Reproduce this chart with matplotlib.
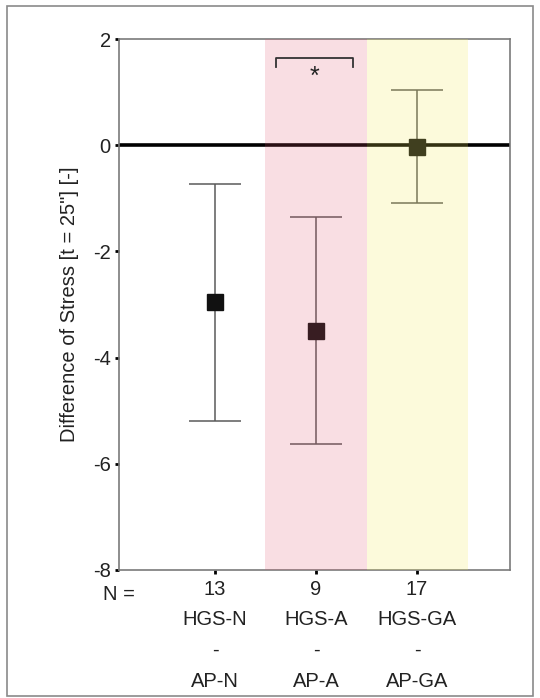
import matplotlib
matplotlib.use("Agg")
import matplotlib.pyplot as plt
from matplotlib.patches import Rectangle
from matplotlib import font_manager

fams = {f.name for f in font_manager.fontManager.ttflist}
FONT = ['Liberation Sans Narrow', 'Liberation Sans', 'DejaVu Sans'] if 'Liberation Sans Narrow' in fams else ['Liberation Sans', 'DejaVu Sans']
plt.rcParams['font.family'] = FONT

# ---- data ----
groups_top = ["HGS-N", "HGS-A", "HGS-GA"]
groups_bottom = ["AP-N", "AP-A", "AP-GA"]
n_values = [13, 9, 17]
means = [-2.95, -3.49, -0.03]
upper = [-0.73, -1.35, 1.04]
lower = [-5.19, -5.62, -1.09]
yticks = [2, 0, -2, -4, -6, -8]
ylabel = 'Difference of Stress [t = 25"] [-]'

fig = plt.figure(figsize=(5.4, 6.98), dpi=100)
ax = fig.add_axes([0.2204, 0.1834, 0.7240, 0.7607])

x = [1, 2, 3]
err_lo = [m - l for m, l in zip(means, lower)]
err_hi = [u - m for m, u in zip(means, upper)]

ax.axhline(0, color='black', lw=2.6, zorder=2)
for xi, m, lo, hi in zip(x, means, err_lo, err_hi):
    ax.errorbar([xi], [m], yerr=[[lo], [hi]], fmt='s', color='#111111',
                mfc='#111111', mec='#111111',
                ecolor='#5a5a5a', elinewidth=1.1, capsize=19, capthick=1.1,
                markersize=11.5, zorder=3)

# shaded regions drawn over (semi-transparent)
ax.axvspan(1.5, 2.5, color=(226/255, 84/255, 110/255), alpha=0.19, lw=0, zorder=4)
ax.axvspan(2.5, 3.5, color=(243/255, 235/255, 86/255), alpha=0.21, lw=0, zorder=4)

# significance bracket
ax.plot([1.6, 1.6, 2.37, 2.37], [1.48, 1.65, 1.65, 1.48], color='#333333', lw=1.3, zorder=5)
ax.text(1.98, 1.28, '*', ha='center', va='center', fontsize=18, color='#222222', zorder=5)

ax.set_xlim(0.05, 3.92)
ax.set_ylim(-8, 2)
ax.set_yticks(yticks)
ax.set_yticklabels([str(v) for v in yticks])
ax.set_xticks(x)
ax.set_xticklabels([f"{n}\n{t}\n-\n{b}" for n, t, b in zip(n_values, groups_top, groups_bottom)],
                   linespacing=1.78)
ax.tick_params(axis='both', direction='out', length=3, width=2, color='black',
               labelsize=14.5, pad=3, labelcolor='#222222')
ax.tick_params(axis='x', pad=4)
for s in ax.spines.values():
    s.set_color('#7a7a7a')
    s.set_linewidth(1.2)

ax.text(0.0, -0.028, 'N =', transform=ax.transAxes, ha='center', va='top',
        fontsize=14.5, color='#222222')
ax.set_ylabel(ylabel, fontsize=14.5, color='#222222', labelpad=10)

fig.patches.append(Rectangle((7/540, 2/698), 526/540, 690/698, transform=fig.transFigure,
                             fill=False, edgecolor='#8a8a8a', lw=1.2))

fig.savefig('out.png', dpi=100)
